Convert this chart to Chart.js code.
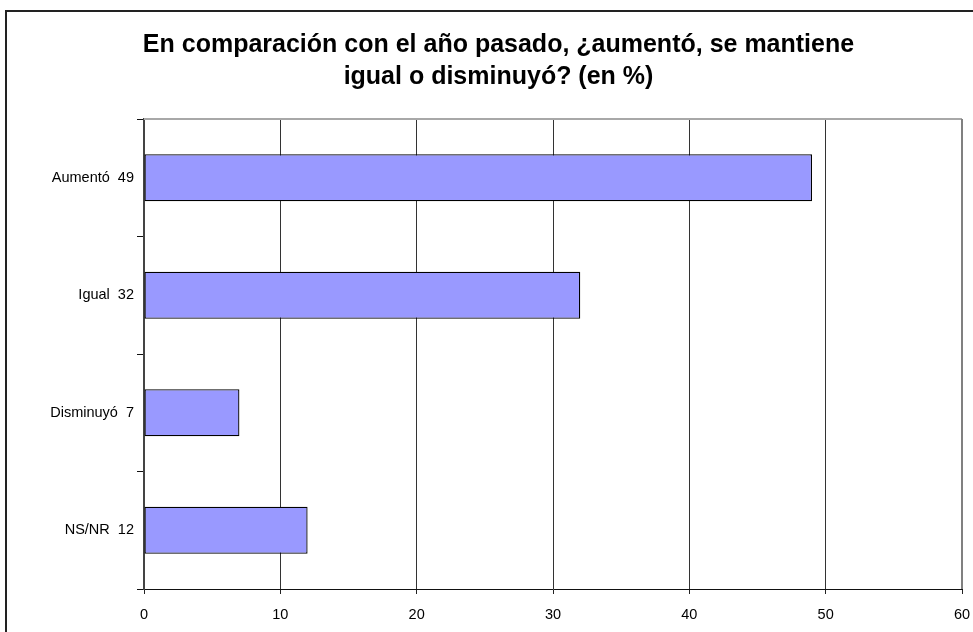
<!DOCTYPE html>
<html>
<head>
<meta charset="UTF-8">
<title>En comparación con el año pasado</title>
<script src="https://cdn.jsdelivr.net/npm/chart.js"></script>
<style>
    body { margin: 0; background: #fff; overflow: hidden; }
    .frame { position: absolute; left: 5px; top: 10px; width: 1000px; height: 700px; border: 2px solid #222; }
    .chart-box { position: absolute; left: 0; top: 0; width: 973px; height: 632px; }
</style>
</head>
<body>
<div class="frame"></div>
<div class="chart-box"><canvas id="chart" width="973" height="632"></canvas></div>
<script>
// datos
const categories = ['Aumentó  49', 'Igual  32', 'Disminuyó  7', 'NS/NR  12'];
const values = [49, 32, 7, 12];
const titleLines = ['En comparación con el año pasado, ¿aumentó, se mantiene', 'igual o disminuyó? (en %)'];

// borde superior y derecho del área de trazado
const plotBorder = {
    id: 'plotBorder',
    afterDraw(chart) {
        const a = chart.chartArea;
        const ctx = chart.ctx;
        ctx.save();
        ctx.strokeStyle = '#a8a8a8';
        ctx.lineWidth = 2;
        ctx.beginPath();
        ctx.moveTo(a.left, a.top);
        ctx.lineTo(a.right, a.top);
        ctx.stroke();
        ctx.strokeStyle = '#808080';
        ctx.beginPath();
        ctx.moveTo(a.right, a.top);
        ctx.lineTo(a.right, a.bottom);
        ctx.stroke();
        ctx.restore();
    }
};

const ctx = document.getElementById('chart').getContext('2d');
new Chart(ctx, {
    type: 'bar',
    data: {
        labels: categories,
        datasets: [{
            data: values,
            backgroundColor: '#9999ff',
            borderColor: '#000',
            borderWidth: 1.3,
            borderSkipped: false,
            barPercentage: 0.4,
            categoryPercentage: 1
        }]
    },
    options: {
        indexAxis: 'y',
        responsive: false,
        animation: false,
        layout: { padding: { left: 35, right: 11, top: 0, bottom: 0 } },
        plugins: {
            legend: { display: false },
            tooltip: { enabled: false },
            title: {
                display: true,
                text: titleLines,
                color: '#000',
                font: { family: 'Arial, "Liberation Sans"', size: 25, weight: 'bold', lineHeight: 1.28 },
                padding: { top: 29, bottom: 26 }
            }
        },
        scales: {
            x: {
                min: 0,
                max: 60,
                ticks: {
                    stepSize: 10,
                    color: '#000',
                    padding: 12,
                    font: { family: 'Arial, "Liberation Sans"', size: 14.5 }
                },
                grid: {
                    color: c => (c.tick && c.tick.value === 60) ? '#808080' : '#333',
                    lineWidth: 1,
                    tickLength: 5,
                    tickColor: '#222'
                },
                border: { display: true, color: '#111', width: 1 },
                afterFit: s => { s.height = 43; s.paddingLeft = 0; s.paddingRight = 0; }
            },
            y: {
                offset: true,
                ticks: {
                    color: '#000',
                    padding: 3,
                    font: { family: 'Arial, "Liberation Sans"', size: 14.5 }
                },
                grid: {
                    offset: true,
                    drawOnChartArea: false,
                    drawTicks: true,
                    tickLength: 7,
                    tickColor: '#111'
                },
                border: { display: true, color: '#444', width: 2 },
                afterFit: s => { s.width = 109; s.paddingTop = 0; s.paddingBottom = 0; }
            }
        }
    },
    plugins: [plotBorder]
});
</script>
</body>
</html>
